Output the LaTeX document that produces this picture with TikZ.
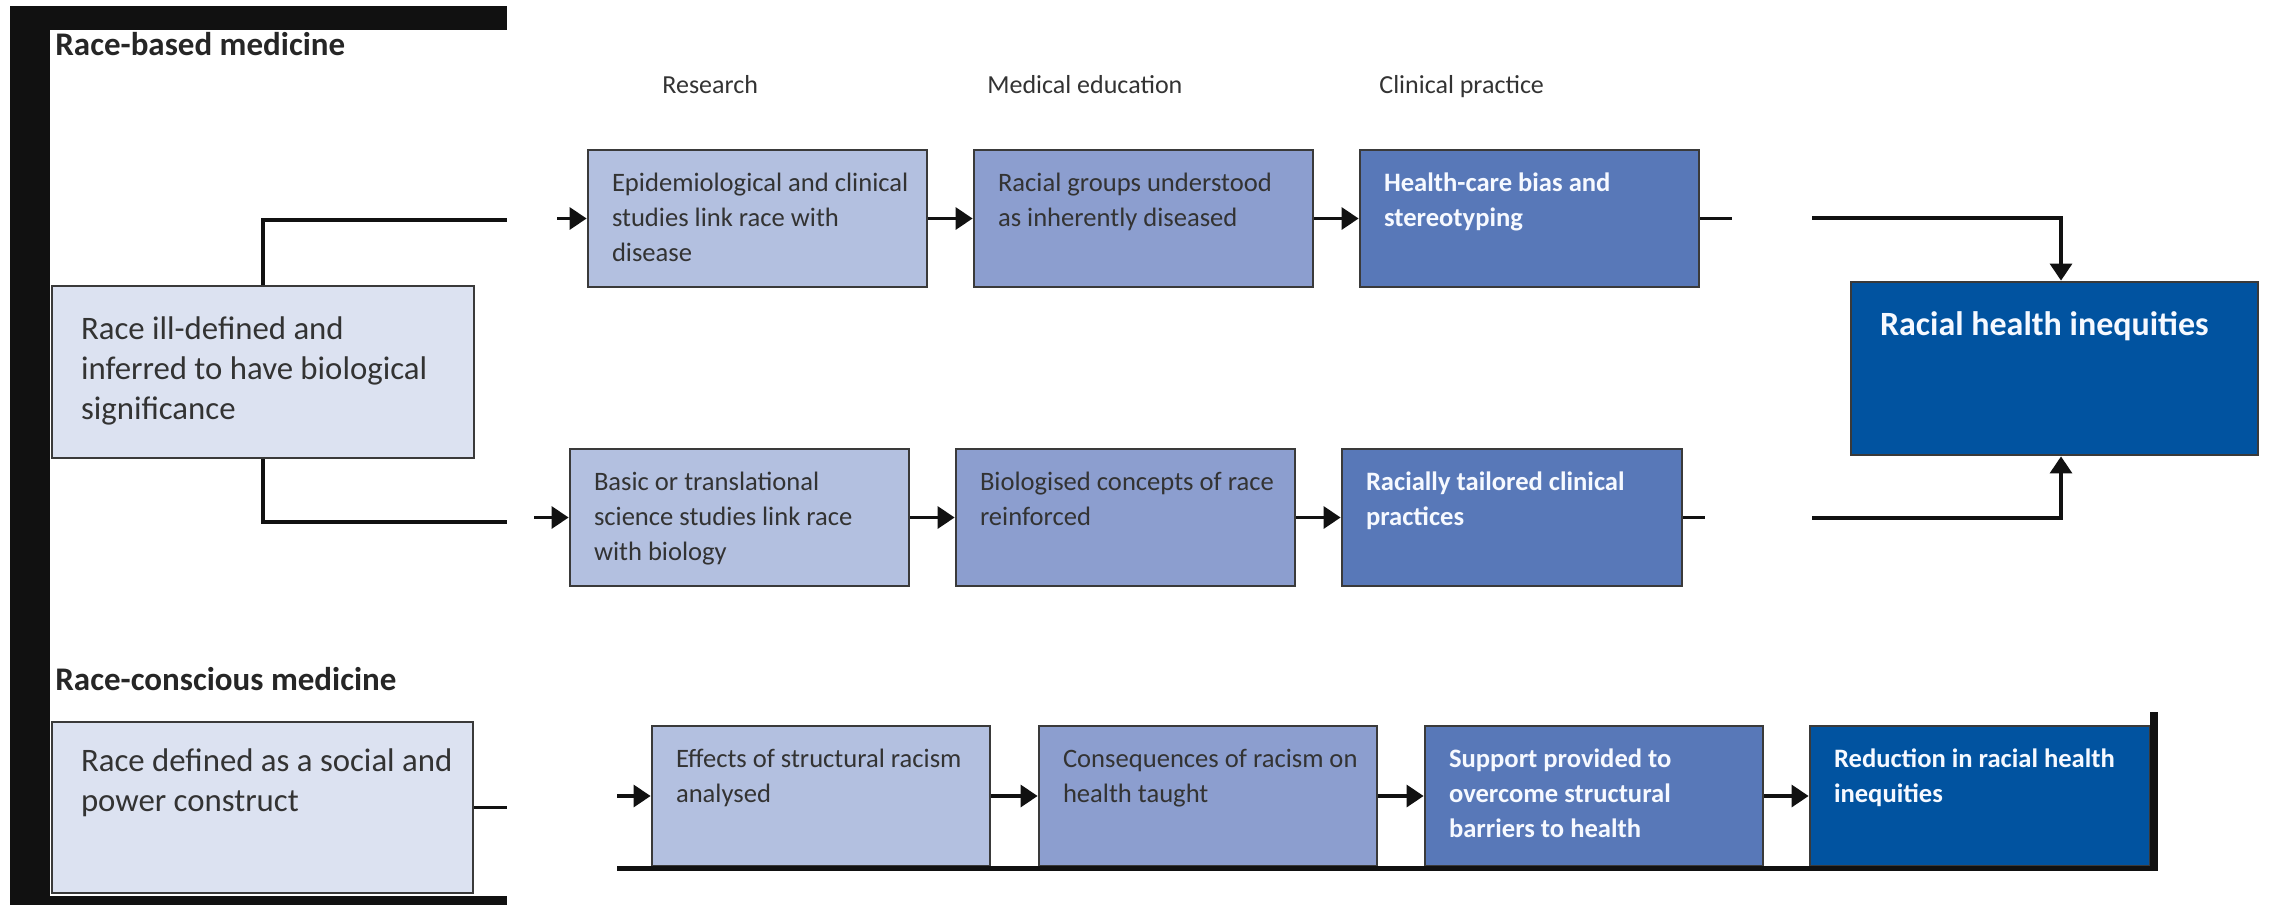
\documentclass[tikz,border=0pt]{standalone}
\usepackage{fontspec}
\setmainfont{Carlito}
\usetikzlibrary{arrows.meta,fit}

\definecolor{frame}{HTML}{111111}
\definecolor{edge}{HTML}{3A3A3A}
\definecolor{ink}{HTML}{333333}
\definecolor{titleink}{HTML}{262626}
\definecolor{paper}{HTML}{F6F9FF}
\definecolor{origin}{HTML}{DCE2F1}
\definecolor{research}{HTML}{B3C0E0}
\definecolor{education}{HTML}{8C9ECF}
\definecolor{clinical}{HTML}{5878B8}
\definecolor{outcome}{HTML}{0153A0}

% multi-line text whose baseline is the first line
\newcommand\lines[1]{\begin{tabular}[t]{@{}l@{}}#1\end{tabular}}

\begin{document}
\begin{tikzpicture}[x=0.5pt,y=-0.5pt,
  cell/.style={draw=edge, line width=1.4pt, inner sep=0pt},
  txt/.style={anchor=base west, inner sep=0pt, text=ink, font=\fontsize{13.3}{17.5}\selectfont},
  bigtxt/.style={anchor=base west, inner sep=0pt, text=ink, font=\fontsize{16.4}{20}\selectfont},
  wtxt/.style={anchor=base west, inner sep=0pt, text=paper, font=\fontsize{13.3}{17.5}\selectfont\bfseries},
  head/.style={anchor=base west, inner sep=0pt, text=ink, font=\fontsize{13}{16}\selectfont},
  title/.style={anchor=base west, inner sep=0pt, text=titleink, font=\fontsize{16.5}{20}\selectfont\bfseries},
  link/.style={draw=frame, line width=1.6pt},
  arr/.style={link, -{Triangle[length=8.5pt,width=11pt]}},
]
\useasboundingbox (0,0) rectangle (2269,905);

% section titles
\node[title] (t1) at (55,55) {Race-based medicine};
\node[title] (t2) at (55,690) {Race-conscious medicine};

% column headings
\node[head] (h1) at (662,93) {Research};
\node[head] (h2) at (987,93) {Medical education};
\node[head] (h3) at (1379,93) {Clinical practice};

% boxes
\node[cell, fill=origin,    fit={(52,286) (474,458)}]   (box1) {};
\node[cell, fill=origin,    fit={(52,722) (473,893)}]   (box2) {};
\node[cell, fill=research,  fit={(588,150) (927,287)}]  (epi) {};
\node[cell, fill=education, fit={(974,150) (1313,287)}] (grp) {};
\node[cell, fill=clinical,  fit={(1360,150) (1699,287)}] (bias) {};
\node[cell, fill=research,  fit={(570,449) (909,586)}]  (basic) {};
\node[cell, fill=education, fit={(956,449) (1295,586)}] (biol) {};
\node[cell, fill=clinical,  fit={(1342,449) (1682,586)}] (tail) {};
\node[cell, fill=outcome,   fit={(1851,282) (2258,455)}] (ineq) {};
\node[cell, fill=research,  fit={(652,726) (990,866)}]  (eff) {};
\node[cell, fill=education, fit={(1039,726) (1377,866)}] (cons) {};
\node[cell, fill=clinical,  fit={(1425,726) (1763,866)}] (supp) {};
\node[cell, fill=outcome,   fit={(1810,726) (2150,866)}] (redu) {};

% box texts
\node[bigtxt] (box1T) at ([shift={(30,55)}]box1.north west) {\lines{Race ill-defined and\\inferred to have biological\\significance}};
\node[bigtxt] (box2T) at ([shift={(30,51)}]box2.north west) {\lines{Race defined as a social and\\power construct}};
\node[txt] (epiT) at ([shift={(25,43)}]epi.north west) {\lines{Epidemiological and clinical\\studies link race with\\disease}};
\node[txt] (grpT) at ([shift={(25,43)}]grp.north west) {\lines{Racial groups understood\\as inherently diseased}};
\node[wtxt] (biasT) at ([shift={(25,43)}]bias.north west) {\lines{Health-care bias and\\stereotyping}};
\node[txt] (basicT) at ([shift={(25,43)}]basic.north west) {\lines{Basic or translational\\science studies link race\\with biology}};
\node[txt] (biolT) at ([shift={(25,43)}]biol.north west) {\lines{Biologised concepts of race\\reinforced}};
\node[wtxt] (tailT) at ([shift={(25,43)}]tail.north west) {\lines{Racially tailored clinical\\practices}};
\node[wtxt, font=\fontsize{17}{20}\selectfont\bfseries] (ineqT) at ([shift={(30,55)}]ineq.north west) {Racial health inequities};
\node[txt] (effT) at ([shift={(25,43)}]eff.north west) {\lines{Effects of structural racism\\analysed}};
\node[txt] (consT) at ([shift={(25,43)}]cons.north west) {\lines{Consequences of racism on\\health taught}};
\node[wtxt] (suppT) at ([shift={(25,43)}]supp.north west) {\lines{Support provided to\\overcome structural\\barriers to health}};
\node[wtxt] (reduT) at ([shift={(25,43)}]redu.north west) {\lines{Reduction in racial health\\inequities}};

% free ends of the broken connectors
\coordinate (a1) at (507,220);
\coordinate (a2) at (557,218);
\coordinate (a3) at (507,522);
\coordinate (a4) at (534,518);
\coordinate (b1) at (1732,218);
\coordinate (b2) at (1812,218);
\coordinate (b3) at (1705,518);
\coordinate (b4) at (1812,518);
\coordinate (c1) at (507,807);
\coordinate (c2) at (617,796);

% race-based pathway
\draw[link] (box1.north) |- (a1);
\draw[arr] (epi.west -| a2) -- (epi.west);
\draw[arr] (epi) -- (grp);
\draw[arr] (grp) -- (bias);
\draw[link] (bias.east) -- (bias.east -| b1);
\draw[arr] (b2) -| ([xshift=3.25pt]ineq.north);

\draw[link] (box1.south) |- (a3);
\draw[arr] (basic.west -| a4) -- (basic.west);
\draw[arr] (basic) -- (biol);
\draw[arr] (biol) -- (tail);
\draw[link] (tail.east) -- (tail.east -| b3);
\draw[arr] (b4) -| ([xshift=3.25pt]ineq.south);

% race-conscious pathway
\draw[link] (box2.east) -- (box2.east -| c1);
\draw[arr] (eff.west -| c2) -- (eff.west);
\draw[arr] (eff) -- (cons);
\draw[arr] (cons) -- (supp);
\draw[arr] (supp) -- (redu);

% black frame pieces
\fill[frame] (10,6) rectangle (50,905);
\fill[frame] (10,6) rectangle (507,30);
\fill[frame] (10,896) rectangle (507,905);
\fill[frame] (617,866) rectangle (2158,871);
\fill[frame] (2150,712) rectangle (2158,871);
\end{tikzpicture}
\end{document}
